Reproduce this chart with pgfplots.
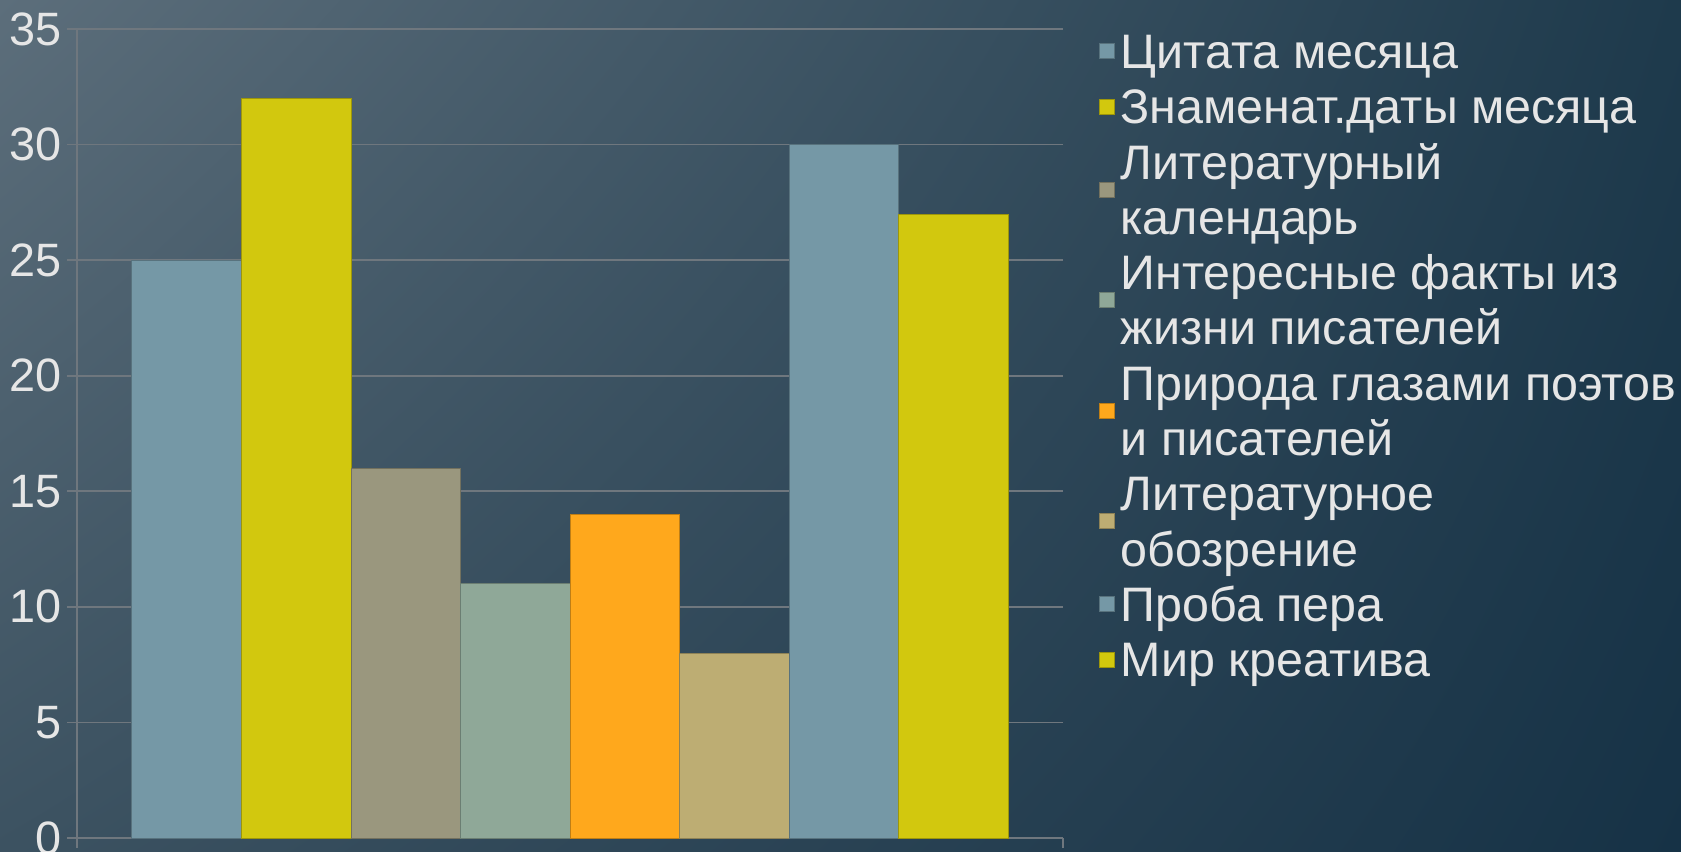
\documentclass[border=0pt]{standalone}
\usepackage{pgfplots}
\pgfplotsset{compat=1.18}
\usetikzlibrary{shadings}
\usepackage{fontspec}
\setmainfont{Liberation Sans}

\definecolor{cBlue}{HTML}{7598A6}
\definecolor{cYellow}{HTML}{D2C80E}
\definecolor{cKhaki}{HTML}{9A977E}
\definecolor{cSage}{HTML}{8FA898}
\definecolor{cOrange}{HTML}{FFA81C}
\definecolor{cTan}{HTML}{BDAD73}
\definecolor{cGrid}{HTML}{6F777E}
\definecolor{cText}{HTML}{E6E6E6}
\definecolor{bgUL}{RGB}{92,110,123}
\definecolor{bgUR}{RGB}{30,58,76}
\definecolor{bgLL}{RGB}{60,82,97}
\definecolor{bgLR}{RGB}{22,50,70}

% strut: height of the first line of each legend entry
\newcommand\ls{\rule{0pt}{22.45bp}}

\begin{document}
\begin{tikzpicture}
\useasboundingbox (0,0) rectangle (840.5bp,426bp);
\shade[upper left=bgUL, upper right=bgUR, lower left=bgLL, lower right=bgLR]
  (0,0) rectangle (840.5bp,426bp);
\begin{axis}[
  at={(38.5bp,7bp)}, anchor=south west,
  scale only axis, width=493bp, height=404.5bp,
  xmin=-0.5, xmax=0.5, ymin=0, ymax=35,
  ytick={0,5,...,35},
  xtick={-0.5,0.5}, xticklabels={},
  axis lines*=left,
  axis line style={cGrid, line width=0.8bp},
  tick align=outside,
  major tick length=5bp,
  tick style={cGrid, line width=0.8bp},
  ymajorgrids,
  grid style={cGrid, line width=0.8bp},
  /pgf/number format/assume math mode=true,
  yticklabel style={font=\fontsize{23.5}{27}\selectfont, text=cText, xshift=1bp},
  ybar=0pt, bar width=0.1111,
  legend style={at={(1.03,1.0074)}, anchor=north west, draw=none, fill=none,
    inner ysep=0pt,
    font=\fontsize{24.3}{27.7}\selectfont, text=cText,
    row sep=0pt, cells={anchor=west},
    nodes={align=left, inner ysep=0pt, inner xsep=3bp, text depth=5.25bp}},
  legend image code/.code={\fill[#1] (0bp,-3.75bp) rectangle (7.5bp,3.75bp);},
]
\addplot[fill=cBlue, draw=cBlue!75!black, line width=0.4bp] coordinates {(0,25)};
\addplot[fill=cYellow, draw=cYellow!75!black, line width=0.4bp] coordinates {(0,32)};
\addplot[fill=cKhaki, draw=cKhaki!75!black, line width=0.4bp] coordinates {(0,16)};
\addplot[fill=cSage, draw=cSage!75!black, line width=0.4bp] coordinates {(0,11)};
\addplot[fill=cOrange, draw=cOrange!75!black, line width=0.4bp] coordinates {(0,14)};
\addplot[fill=cTan, draw=cTan!75!black, line width=0.4bp] coordinates {(0,8)};
\addplot[fill=cBlue, draw=cBlue!75!black, line width=0.4bp] coordinates {(0,30)};
\addplot[fill=cYellow, draw=cYellow!75!black, line width=0.4bp] coordinates {(0,27)};
\legend{
  \ls Цитата месяца,
  \ls Знаменат.даты месяца,
  \ls Литературный\\календарь,
  \ls Интересные факты из\\жизни писателей,
  \ls Природа глазами поэтов\\и писателей,
  \ls Литературное\\обозрение,
  \ls Проба пера,
  \ls Мир креатива}
\end{axis}
\end{tikzpicture}
\end{document}
